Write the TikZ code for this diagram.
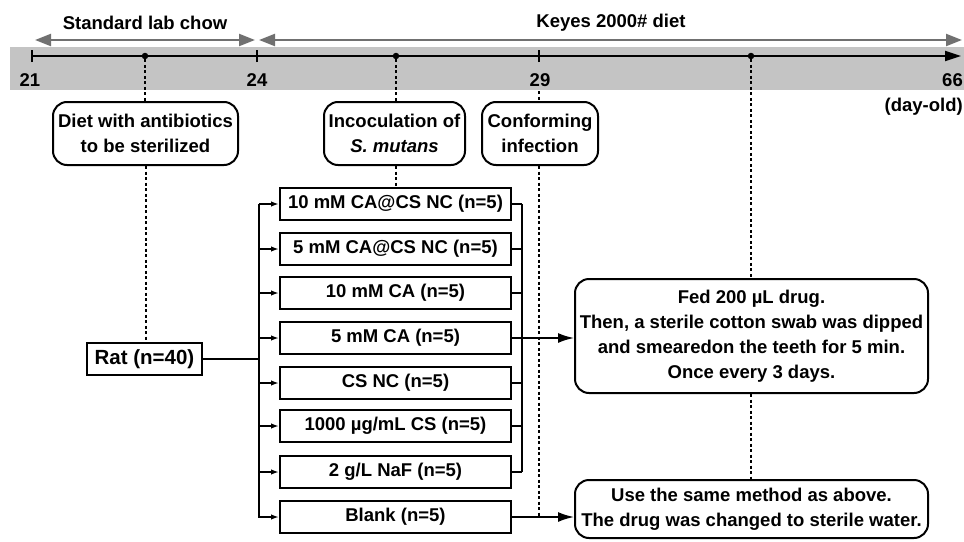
\documentclass[tikz,border=0pt]{standalone}
\usepackage{fontspec}
\setmainfont{Liberation Sans}
\usetikzlibrary{arrows.meta}
\definecolor{bandgray}{RGB}{196,196,196}
\definecolor{arrgray}{RGB}{112,112,112}
\begin{document}
\begin{tikzpicture}[x=1pt,y=-1pt,
  font=\fontsize{18.5}{25}\selectfont\bfseries,
  tbox/.style={draw, line width=2pt, minimum width=231pt, minimum height=32pt, inner sep=0pt},
  rbox/.style={draw, line width=2pt, rounded corners=14pt, align=center, inner sep=0pt},
  conn/.style={line width=1.8pt},
  dotline/.style={line width=2pt, dash pattern=on 3pt off 2.5pt},
  smallarr/.style={conn, -{Latex[length=8pt,width=5.5pt]}},
  bigarr/.style={conn, -{Latex[length=16pt,width=10pt]}},
  grayarr/.style={draw=arrgray, line width=2.2pt, {Triangle[length=16pt,width=12pt]}-{Triangle[length=16pt,width=12pt]}},
  dotmark/.style={circle, fill, inner sep=0pt, minimum size=6.5pt},
  lbl/.style={inner sep=0pt}]
\useasboundingbox (0,0) rectangle (964,541);
% band
\fill[bandgray] (10,47) rectangle (964,90);
% diet period arrows
\draw[grayarr] (35,40) -- (255,40);
\draw[grayarr] (259,40) -- (962,40);
\node[lbl] (std) at (145,23) {Standard lab chow};
\node[lbl] (key) at (611,23) {Keyes 2000\# diet};
% axis
\coordinate (t21) at (32,56);
\coordinate (t24) at (257,56);
\coordinate (t29) at (539,56);
\coordinate (tend) at (961,56);
\draw[conn, -{Triangle[length=16pt,width=10pt]}] (t21) -- (tend);
\foreach \t in {t21,t24,t29} \draw[conn] ([yshift=-6pt]\t) -- ([yshift=6pt]\t);
\node[dotmark] (d1) at (145,56) {};
\node[dotmark] (d2) at (396,56) {};
\node[dotmark] (d3) at (751,56) {};
\node[lbl] (l21) at (30,80) {21};
\node[lbl] (l24) at (257,80) {24};
\node[lbl] (l29) at (540,80) {29};
\node[lbl, anchor=east] (l66) at (963,80) {66};
\node[lbl, anchor=east] (dayold) at (963,107) {(day-old)};
\coordinate (bandbot) at (539,91);
% round boxes
\node[rbox, minimum width=185pt, minimum height=63pt] (diet) at (145.5,133.5) {Diet with antibiotics\\to be sterilized};
\node[rbox, minimum width=141pt, minimum height=63pt] (inc) at (394.5,133.5) {Incoculation of\\\itshape S. mutans};
\node[rbox, minimum width=116pt, minimum height=63pt] (conf) at (540,133.5) {Conforming\\infection};
% rat
\node[draw, line width=2pt, minimum width=115pt, minimum height=32pt, inner sep=0pt, font=\fontsize{20.5}{25}\selectfont\bfseries] (rat) at (144.5,359) {Rat (n=40)};
% treatment boxes
\node[tbox] (b1) at (395.5,204) {10 mM CA@CS NC (n=5)};
\node[tbox] (b2) at (395.5,249) {5 mM CA@CS NC (n=5)};
\node[tbox] (b3) at (395.5,293) {10 mM CA (n=5)};
\node[tbox] (b4) at (395.5,338) {5 mM CA (n=5)};
\node[tbox] (b5) at (395.5,383) {CS NC (n=5)};
\node[tbox] (b6) at (395.5,426) {1000 µg/mL CS (n=5)};
\node[tbox] (b7) at (395.5,472) {2 g/L NaF (n=5)};
\node[tbox] (b8) at (395.5,517) {Blank (n=5)};
% outcome boxes
\node[rbox, minimum width=353pt, minimum height=114pt] (fed) at (751.5,336) {Fed 200 µL drug.\\Then, a sterile cotton swab was dipped\\and smearedon the teeth for 5 min.\\Once every 3 days.};
\node[rbox, minimum width=353pt, minimum height=58pt] (use) at (751.5,509) {Use the same method as above.\\The drug was changed to sterile water.};
% branch from rat
\coordinate (br) at (259,359);
\draw[conn] (rat.east) -- (rat.east -| br);
\draw[conn] (br |- b1) -- (br |- b7);
\foreach \b in {b1,b2,b3,b4,b5,b6,b7} \draw[smallarr] (br |- \b) -- (\b.west);
\draw[smallarr] (br |- b7) |- (b8.west);
% collector
\coordinate (col) at (522,204);
\foreach \b in {b1,b2,b3,b5,b6,b7} \draw[conn] (\b.east) -- (col |- \b);
\draw[conn] (col |- b1) -- (col |- b7);
\draw[bigarr] (b4.east) -- (b4.east -| fed.west);
\draw[bigarr] (b8.east) -- (b8.east -| use.west);
% dotted guides
\draw[dotline] (d1) -- (d1 |- diet.north);
\draw[dotline] (diet.south) -- (diet.south |- rat.north);
\draw[dotline] (d2) -- (d2 |- inc.north);
\draw[dotline] (d2 |- inc.south) -- (d2 |- b1.north);
\draw[dotline] (bandbot) -- (bandbot |- conf.north);
\draw[dotline] (bandbot |- conf.south) -- (bandbot |- b8.east);
\draw[dotline] (d3) -- (d3 |- fed.north);
\draw[dotline] (d3 |- fed.south) -- (d3 |- use.north);
\end{tikzpicture}
\end{document}
